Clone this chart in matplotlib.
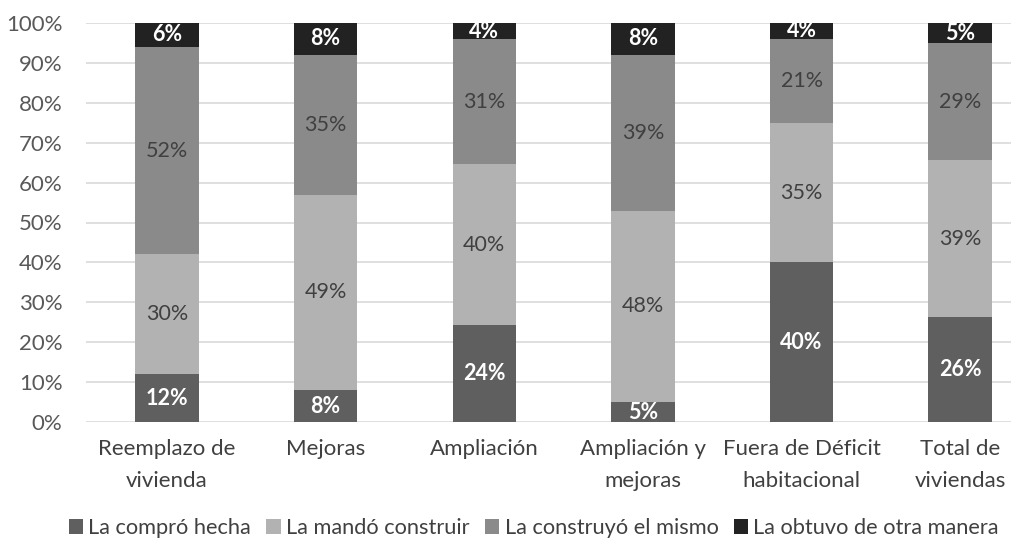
import numpy as np
import matplotlib.pyplot as plt

categories = ["Reemplazo de\nvivienda", "Mejoras", "Ampliación", "Ampliación y\nmejoras",
              "Fuera de Déficit\nhabitacional", "Total de\nviviendas"]
compro = [12, 8, 24, 5, 40, 26]
mando = [30, 49, 40, 48, 35, 39]
construyo = [52, 35, 31, 39, 21, 29]
otra = [6, 8, 4, 8, 4, 5]

series = [("La compró hecha", compro, "#5f5f5f", "white", "bold"),
          ("La mandó construir", mando, "#b2b2b2", "#404040", "normal"),
          ("La construyó el mismo", construyo, "#8a8a8a", "#404040", "normal"),
          ("La obtuvo de otra manera", otra, "#222222", "white", "bold")]

plt.rcParams["font.family"] = ["Lato", "DejaVu Sans"]

fig = plt.figure(figsize=(10.11, 5.46), dpi=100)
ax = fig.add_axes([86 / 1011, 1 - 422 / 546, 925 / 1011, 399 / 546])

x = np.arange(len(categories))
totals = np.sum([s[1] for s in series], axis=0)
bottom = np.zeros(len(categories))
for name, vals, color, tcol, tw in series:
    h = np.array(vals) / totals * 100
    ax.bar(x, h, 0.4, bottom=bottom, color=color, label=name, zorder=3)
    for xi, b, hi, v in zip(x, bottom, h, vals):
        ax.text(xi, b + hi / 2, f"{v}%", ha="center", va="center",
                color=tcol, fontweight=tw, fontsize=15.5, zorder=4)
    bottom += h

ax.set_xlim(-0.51, 5.32)
ax.set_ylim(0, 100)
ax.set_yticks(range(0, 101, 10))
ax.set_yticklabels([f"{v}%" for v in range(0, 101, 10)], color="#595959", fontsize=16)
ax.set_xticks(x)
ax.set_xticklabels(categories, color="#404040", fontsize=16, linespacing=1.75)
ax.tick_params(length=0, axis="y", pad=17)
ax.tick_params(length=0, axis="x", pad=12)
ax.grid(axis="y", color="#d9d9d9", lw=1.2, zorder=0)
for s in ax.spines.values():
    s.set_visible(False)

fig.legend(loc="center", bbox_to_anchor=(0.528, 1 - 528 / 546), ncol=4, frameon=False,
           fontsize=15.7, handlelength=0.65, handleheight=0.65, handletextpad=0.25,
           columnspacing=0.7, labelcolor="#404040")

fig.savefig("out.png", dpi=100)
